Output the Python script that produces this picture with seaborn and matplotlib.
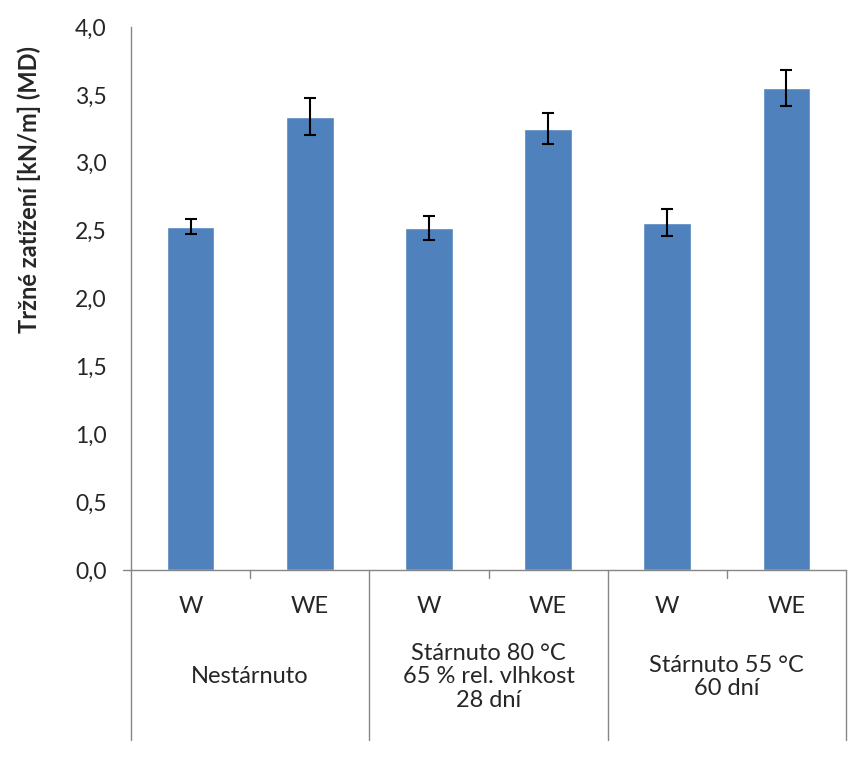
import seaborn as sns
import matplotlib.pyplot as plt
import pandas as pd
from matplotlib.transforms import blended_transform_factory

# data
samples = ["W", "WE", "W", "WE", "W", "WE"]
groups = ["Nestárnuto", "Stárnuto 80 °C\n65 % rel. vlhkost\n28 dní", "Stárnuto 55 °C\n60 dní"]
values = [2.53, 3.34, 2.52, 3.25, 2.56, 3.55]
errors = [0.055, 0.135, 0.09, 0.115, 0.10, 0.13]
yticks = [0.0, 0.5, 1.0, 1.5, 2.0, 2.5, 3.0, 3.5, 4.0]

sns.set_style("white")
plt.rcParams["font.family"] = ["Lato", "DejaVu Sans"]

df = pd.DataFrame({"pos": [str(i) for i in range(len(values))], "value": values})

fig = plt.figure(figsize=(8.66, 7.57), dpi=100)
ax = fig.add_axes([0.1513, 0.247, 0.8256, 0.7173])

sns.barplot(data=df, x="pos", y="value", color="#4F81BD", saturation=1,
            width=0.4, errorbar=None, ax=ax)
ax.errorbar(range(len(values)), values, yerr=errors, fmt="none",
            ecolor="black", elinewidth=1.5, capsize=4.2, capthick=1.5)

grey = "#868686"
ax.set_ylim(0, 4.0)
ax.set_xlim(-0.5, len(values) - 0.5)
ax.set_yticks(yticks)
ax.set_yticklabels([f"{t:.1f}".replace(".", ",") for t in yticks], fontsize=16.5)
ax.tick_params(axis="y", direction="out", length=6, color=grey, width=1, pad=11.5)
ax.set_xticks(range(len(samples)))
ax.set_xticklabels(samples, fontsize=17)
ax.tick_params(axis="x", length=0, pad=19)
ax.set_xlabel("")
ax.set_ylabel("Tržné zatížení [kN/m] (MD)", fontsize=17, fontweight="bold")
ax.yaxis.set_label_coords(-0.126, 0.70)

for side in ["top", "right"]:
    ax.spines[side].set_visible(False)
for side in ["left", "bottom"]:
    ax.spines[side].set_color(grey)
    ax.spines[side].set_linewidth(1)

# multi-level category axis
trans = blended_transform_factory(ax.transData, ax.transAxes)
ax.plot([-0.5 - 0.067, -0.5], [0, 0], color=grey, lw=1, transform=trans, clip_on=False)
for i in range(len(groups) + 1):
    x = -0.5 + 2 * i
    ax.plot([x, x], [0, -0.313], color=grey, lw=1, transform=trans, clip_on=False)
for i in range(len(groups)):
    x = 0.5 + 2 * i
    ax.plot([x, x], [0, -0.014], color=grey, lw=1, transform=trans, clip_on=False)
    ax.text(x, -0.197, groups[i], transform=trans, ha="center", va="center",
            fontsize=17, linespacing=1.13)

fig.savefig("out.png", dpi=100)
